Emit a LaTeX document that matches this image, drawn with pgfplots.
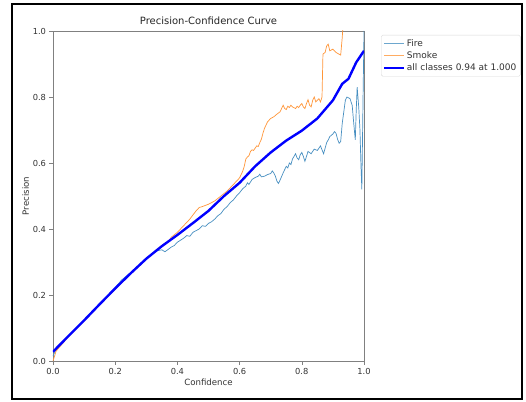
\documentclass[border=0pt]{standalone}
\usepackage{fontspec}
\setmainfont{DejaVu Sans}
\usepackage{pgfplots}
\pgfplotsset{compat=1.18}
\definecolor{fireblue}{HTML}{1F77B4}
\definecolor{smokeorange}{HTML}{FF7F0E}
\colorlet{firecol}{fireblue!82!white}
\colorlet{smokecol}{smokeorange!82!white}
\definecolor{spine}{HTML}{808080}
\begin{document}
\begin{tikzpicture}
\path[use as bounding box, fill=white] (-53pt,-40pt) rectangle (473pt,361pt);
\draw[black, line width=1.4pt] (-41pt,-38pt) rectangle (469pt,357pt);
\begin{axis}[
  at={(0,0)}, anchor=south west,
  scale only axis, width=311pt, height=330pt,
  xmin=0, xmax=1, ymin=0, ymax=1,
  xtick={0,0.2,0.4,0.6,0.8,1.0}, ytick={0,0.2,0.4,0.6,0.8,1.0},
  xticklabel style={/pgf/number format/.cd, fixed, fixed zerofill, precision=1, assume math mode=true},
  yticklabel style={/pgf/number format/.cd, fixed, fixed zerofill, precision=1, assume math mode=true},
  ticklabel style={font=\fontsize{8.3}{9}\selectfont, text=black!80},
  tick align=outside, tick pos=left, major tick length=3.5pt,
  tick style={spine, line width=0.6pt},
  axis line style={spine, line width=0.7pt},
  title={Precision-Confidence Curve},
  title style={font=\fontsize{10}{12}\selectfont, yshift=-3pt, text=black!85},
  xlabel={Confidence}, ylabel={Precision},
  label style={font=\fontsize{8.6}{10}\selectfont, text=black!80},
  xlabel style={yshift=2pt}, ylabel style={yshift=-3pt},
  legend cell align=left,
  legend style={at={(axis description cs:1,1)}, anchor=north west, xshift=17pt, yshift=-4pt,
    draw=black!15, rounded corners=1.5pt, font=\fontsize{9}{10.5}\selectfont,
    inner xsep=2pt, inner ysep=2pt, row sep=0pt},
  legend image code/.code={\draw[#1] (0cm,0cm) -- (0.68cm,0cm);},
]
\addlegendimage{color=fireblue!65!white, line width=1.2pt}
\addlegendentry{\textcolor{black!80}{Fire}}
\addlegendimage{color=smokeorange!65!white, line width=1.2pt}
\addlegendentry{\textcolor{black!80}{Smoke}}
\addlegendimage{color=blue, line width=2.4pt}
\addlegendentry{\textcolor{black!80}{all classes 0.94 at 1.000}}
\addplot[color=firecol, line width=0.7pt, forget plot] coordinates {
(0,0.015)(0.01,0.035)(0.05,0.077)(0.1,0.124)(0.15,0.173)(0.2,0.222)(0.22,0.245)(0.25,0.268)
(0.3,0.31)(0.33,0.333)(0.35,0.337)(0.36,0.331)(0.37,0.338)(0.38,0.345)(0.39,0.35)(0.4,0.36)
(0.41,0.366)(0.42,0.372)(0.43,0.38)(0.44,0.378)(0.45,0.39)(0.46,0.395)(0.47,0.40)(0.48,0.41)
(0.49,0.408)(0.5,0.417)(0.51,0.422)(0.52,0.43)(0.53,0.44)(0.54,0.447)(0.55,0.46)(0.56,0.468)
(0.57,0.48)(0.58,0.488)(0.59,0.5)(0.6,0.51)(0.61,0.522)(0.62,0.53)(0.625,0.54)(0.63,0.535)
(0.64,0.55)(0.65,0.556)(0.66,0.56)(0.665,0.566)(0.67,0.558)(0.68,0.56)(0.69,0.565)(0.7,0.568)
(0.705,0.576)(0.71,0.57)(0.715,0.56)(0.72,0.545)(0.725,0.538)(0.73,0.548)(0.74,0.57)(0.75,0.59)
(0.755,0.585)(0.76,0.6)(0.765,0.595)(0.77,0.612)(0.775,0.62)(0.78,0.628)(0.785,0.615)(0.79,0.61)
(0.795,0.625)(0.8,0.632)(0.805,0.62)(0.81,0.605)(0.815,0.62)(0.82,0.635)(0.83,0.628)(0.84,0.642)
(0.85,0.638)(0.86,0.652)(0.865,0.64)(0.87,0.628)(0.875,0.645)(0.88,0.662)(0.885,0.67)(0.89,0.68)
(0.9,0.688)(0.905,0.695)(0.91,0.69)(0.915,0.672)(0.92,0.66)(0.925,0.665)
(0.93,0.72)(0.94,0.79)(0.945,0.80)(0.955,0.795)(0.962,0.775)(0.967,0.72)(0.972,0.67)
(0.975,0.76)(0.978,0.83)(0.983,0.77)(0.987,0.70)(0.99,0.6)(0.993,0.52)(0.997,0.8)(1.0,1.0)
};
\addplot[color=smokecol, line width=0.7pt, forget plot] coordinates {
(0,0.0)(0.01,0.03)(0.05,0.074)(0.1,0.121)(0.15,0.17)(0.2,0.218)(0.25,0.264)(0.3,0.308)
(0.33,0.335)(0.35,0.35)(0.37,0.36)(0.38,0.375)(0.4,0.39)(0.42,0.41)(0.44,0.43)(0.46,0.455)
(0.47,0.465)(0.48,0.468)(0.5,0.475)(0.52,0.485)(0.54,0.5)(0.56,0.515)(0.58,0.535)
(0.6,0.555)(0.605,0.565)(0.61,0.575)(0.615,0.59)(0.62,0.612)(0.625,0.618)(0.63,0.622)
(0.635,0.635)(0.64,0.64)(0.645,0.638)(0.65,0.645)(0.655,0.652)(0.66,0.65)(0.665,0.662)
(0.67,0.672)(0.675,0.69)(0.68,0.705)(0.69,0.725)(0.7,0.735)(0.71,0.74)(0.72,0.748)(0.73,0.755)
(0.735,0.765)(0.74,0.775)(0.745,0.765)(0.75,0.762)(0.755,0.772)(0.76,0.768)(0.765,0.775)
(0.77,0.77)(0.78,0.765)(0.785,0.772)(0.79,0.768)(0.795,0.775)(0.8,0.78)(0.805,0.77)(0.81,0.765)
(0.815,0.78)(0.82,0.792)(0.825,0.775)(0.83,0.77)(0.835,0.79)(0.84,0.80)(0.845,0.785)(0.85,0.79)
(0.855,0.795)(0.86,0.785)(0.865,0.80)(0.868,0.93)
(0.875,0.935)(0.88,0.955)(0.885,0.96)(0.89,0.94)(0.9,0.945)(0.91,0.935)(0.925,0.927)
(0.93,0.98)(0.935,1.05)
};
\addplot[color=blue, line width=2.4pt, forget plot] coordinates {
(0,0.028)(0.05,0.076)(0.1,0.123)(0.15,0.172)(0.2,0.22)(0.25,0.266)(0.3,0.31)(0.35,0.348)
(0.4,0.382)(0.45,0.418)(0.5,0.455)(0.55,0.5)(0.6,0.54)(0.65,0.59)(0.7,0.632)(0.75,0.668)
(0.8,0.698)(0.85,0.735)(0.9,0.79)(0.93,0.84)(0.95,0.855)(0.975,0.905)(1.0,0.94)
};
\end{axis}
\end{tikzpicture}
\end{document}
